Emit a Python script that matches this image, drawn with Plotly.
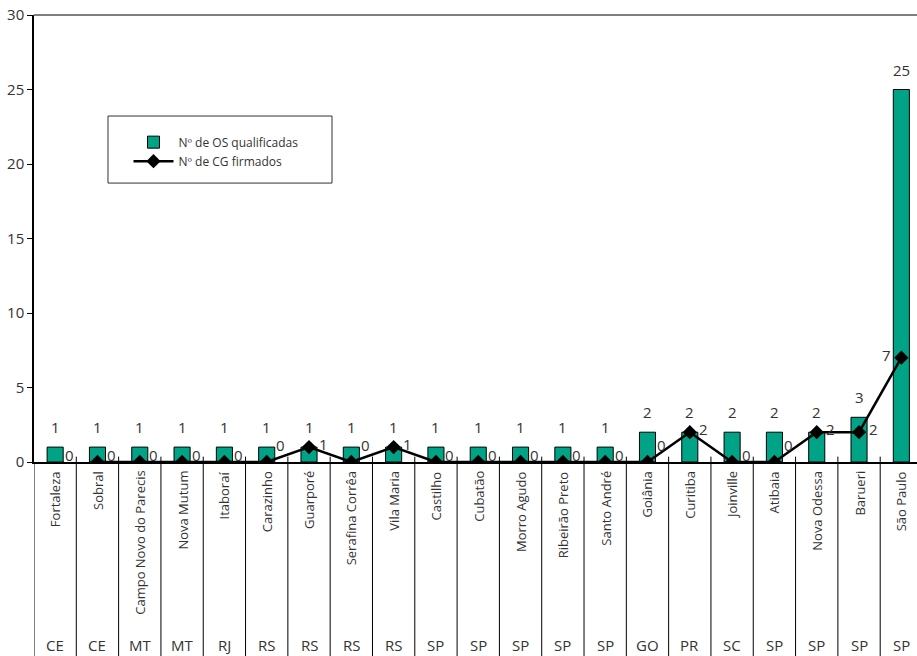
import plotly.graph_objects as go

# Municípios, UF e contagens
cidades = ["Fortaleza", "Sobral", "Campo Novo do Parecis", "Nova Mutum", "Itaboraí",
           "Carazinho", "Guarporé", "Serafina Corrêa", "Vila Maria", "Castilho",
           "Cubatão", "Morro Agudo", "Ribeirão Preto", "Santo André", "Goiânia",
           "Curitiba", "Joinville", "Atibaia", "Nova Odessa", "Barueri", "São Paulo"]
ufs = ["CE", "CE", "MT", "MT", "RJ", "RS", "RS", "RS", "RS", "SP", "SP", "SP", "SP",
       "SP", "GO", "PR", "SC", "SP", "SP", "SP", "SP"]
os_qualificadas = [1, 1, 1, 1, 1, 1, 1, 1, 1, 1, 1, 1, 1, 1, 2, 2, 2, 2, 2, 3, 25]
cg_firmados = [0, 0, 0, 0, 0, 0, 1, 0, 1, 0, 0, 0, 0, 0, 0, 2, 0, 0, 2, 2, 7]
y_ticks = [0, 5, 10, 15, 20, 25, 30]

FONT = "Open Sans"
TXT = "#333333"
TEAL = "#00A386"

pos = list(range(len(cidades)))

fig = go.Figure()

fig.add_trace(go.Bar(
    x=pos, y=os_qualificadas, width=0.38,
    marker=dict(color=TEAL, line=dict(color="black", width=1)),
    name="Nº de OS qualificadas",
))

# the CG line is drawn from the second municipality onward
fig.add_trace(go.Scatter(
    x=pos[1:], y=cg_firmados[1:], mode="lines+markers",
    line=dict(color="black", width=2.5),
    marker=dict(symbol="diamond", size=11, color="black"),
    name="Nº de CG firmados",
))

annotations = []
# value labels above the bars
for i, v in enumerate(os_qualificadas):
    annotations.append(dict(x=i, y=v, text=str(v), showarrow=False, yshift=20,
                            font=dict(family=FONT, size=15, color=TXT)))
# value labels for the CG series
for i, v in enumerate(cg_firmados):
    last = i == len(cg_firmados) - 1
    nxt = cg_firmados[i + 1] if not last else v
    if v == 0:
        ys = 17 if nxt > v else 7
    else:
        ys = 3
    annotations.append(dict(x=i, y=v, text=str(v), showarrow=False,
                            xshift=-15 if last else 14, yshift=ys,
                            font=dict(family=FONT, size=15, color=TXT)))
# category labels: municipality (rotated) and state
for i, (c, uf) in enumerate(zip(cidades, ufs)):
    annotations.append(dict(x=i, y=0, yref="paper", text=c, showarrow=False,
                            textangle=-90, yanchor="top", yshift=-7,
                            font=dict(family=FONT, size=13, color=TXT)))
    annotations.append(dict(x=i, y=0, yref="paper", text=uf, showarrow=False,
                            yanchor="middle", yshift=-183,
                            font=dict(family=FONT, size=15, color=TXT)))

# separators between categories below the axis
shapes = []
for k in range(len(cidades) + 1):
    shapes.append(dict(type="line", xref="x", yref="paper", x0=k - 0.5, x1=k - 0.5,
                       y0=-0.45, y1=0.012 if k > 0 else 0,
                       line=dict(color="black", width=1)))
# top frame line
shapes.append(dict(type="line", xref="paper", yref="paper", x0=0, x1=1, y0=1, y1=1,
                   line=dict(color="#555555", width=1.5)))
# legend frame
shapes.append(dict(type="rect", xref="paper", yref="paper",
                   x0=0.0838, x1=0.3375, y0=0.624, y1=0.774,
                   line=dict(color="#333333", width=1), fillcolor="rgba(0,0,0,0)"))

fig.update_layout(
    width=917, height=656,
    margin=dict(l=34, r=0, t=15, b=194),
    paper_bgcolor="white", plot_bgcolor="white",
    font=dict(family=FONT, color=TXT),
    showlegend=True,
    legend=dict(x=0.107, y=0.748, xanchor="left", yanchor="top",
                bgcolor="rgba(0,0,0,0)", borderwidth=0,
                font=dict(family=FONT, size=12, color=TXT),
                itemwidth=40, tracegroupgap=0),
    annotations=annotations,
    shapes=shapes,
)

fig.update_xaxes(range=[-0.5, 20.37], showticklabels=False, ticks="",
                 showgrid=False, zeroline=False,
                 showline=True, linecolor="black", linewidth=1.5)
fig.update_yaxes(range=[0, 30], tickvals=y_ticks, ticks="outside", ticklen=5,
                 tickcolor="black", showgrid=False, zeroline=False,
                 showline=True, linecolor="black", linewidth=1.5,
                 tickfont=dict(family=FONT, size=15, color=TXT))

fig.write_html("out.html")
